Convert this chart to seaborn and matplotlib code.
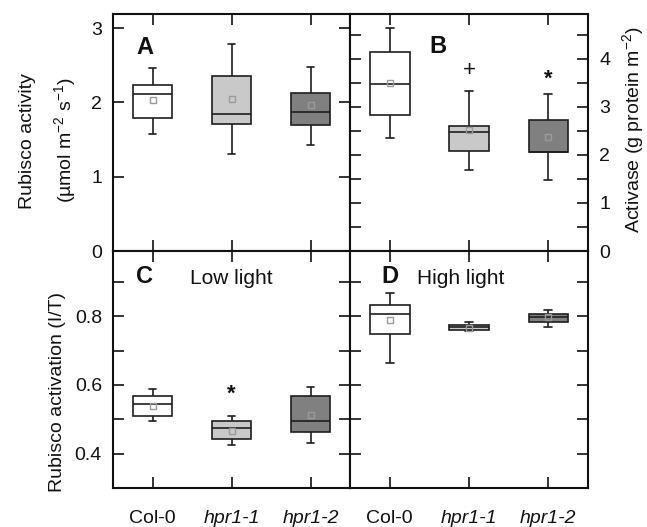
import numpy as np
import pandas as pd
import matplotlib
matplotlib.use("Agg")
import matplotlib.pyplot as plt
import seaborn as sns
from matplotlib.ticker import FixedLocator

genotypes = ["Col-0", "hpr1-1", "hpr1-2"]
box_colors = ["#ffffff", "#c9c9c9", "#808080"]

# Rubisco activity (µmol m-2 s-1): whisker ends, quartiles, medians and means
activity_low = [1.58, 1.31, 1.43]
activity_q1 = [1.79, 1.71, 1.70]
activity_med = [2.11, 1.85, 1.87]
activity_q3 = [2.24, 2.35, 2.13]
activity_high = [2.46, 2.78, 2.47]
activity_mean = [2.03, 2.04, 1.96]

# Rubisco activase content (g protein m-2)
activase_low = [2.35, 1.69, 1.48]
activase_q1 = [2.83, 2.08, 2.06]
activase_med = [3.48, 2.47, 2.06]
activase_q3 = [4.14, 2.61, 2.73]
activase_high = [4.64, 3.32, 3.26]
activase_mean = [3.49, 2.52, 2.38]

# Rubisco activation state (initial/total), low light
low_low = [0.494, 0.424, 0.432]
low_q1 = [0.511, 0.444, 0.463]
low_med = [0.546, 0.474, 0.496]
low_q3 = [0.569, 0.494, 0.567]
low_high = [0.587, 0.509, 0.594]
low_mean = [0.538, 0.466, 0.512]

# Rubisco activation state (initial/total), high light
high_low = [0.665, 0.756, 0.768]
high_q1 = [0.748, 0.760, 0.784]
high_med = [0.807, 0.768, 0.797]
high_q3 = [0.832, 0.776, 0.808]
high_high = [0.868, 0.784, 0.819]
high_mean = [0.788, 0.767, 0.797]

# significance marks: (genotype, symbol, y)
activase_marks = [("hpr1-1", "+", 3.76), ("hpr1-2", "*", 3.57)]
low_marks = [("hpr1-1", "*", 0.574)]

sns.set_theme(style="white")
plt.rcParams["font.family"] = ["Liberation Sans", "DejaVu Sans"]
plt.rcParams["mathtext.default"] = "regular"
plt.rcParams["axes.linewidth"] = 1.5
plt.rcParams["axes.edgecolor"] = "#111111"

FS = 14


def summary_frame(low, q1, med, q3, high):
    rows = []
    for g, vals in zip(genotypes, zip(low, q1, med, q3, high)):
        for v in vals:
            rows.append({"genotype": g, "value": v})
    return pd.DataFrame(rows)


def draw_panel(ax, low, q1, med, q3, high, mean):
    df = summary_frame(low, q1, med, q3, high)
    sns.boxplot(data=df, x="genotype", y="value", hue="genotype",
                order=genotypes, hue_order=genotypes,
                palette=dict(zip(genotypes, box_colors)),
                width=0.5, whis=(0, 100), linewidth=1.2, linecolor="#1e1e1e",
                showfliers=False, capwidths=0.1, legend=False, ax=ax)
    means = pd.DataFrame({"genotype": genotypes, "mean": mean})
    sns.pointplot(data=means, x="genotype", y="mean", order=genotypes,
                  color="#9a9a9a", marker="s", markersize=4.5,
                  markerfacecolor="none", markeredgewidth=1.0,
                  linestyle="none", errorbar=None, zorder=5, ax=ax)
    ax.set_xlim(-0.5, 2.5)
    ax.set_xlabel("")
    ax.set_ylabel("")
    ax.set_xticks(range(len(genotypes)))
    ax.tick_params(axis="both", which="both", direction="in", length=7.7,
                   width=1.2, color="#111111", top=True, bottom=True,
                   left=True, right=True, labelsize=FS, labelcolor="#111111")
    ax.tick_params(axis="x", pad=15.5)
    ax.tick_params(axis="y", pad=8)
    for s in ax.spines.values():
        s.set_linewidth(1.5)


fig = plt.figure(figsize=(6.47, 5.27), dpi=100)
x0, xm, x1 = 113 / 647, 350 / 647, 588 / 647
y_top, y_mid, y_bot = 1 - 14 / 527, 1 - 251 / 527, 1 - 488 / 527
axA = fig.add_axes([x0, y_mid, xm - x0, y_top - y_mid])
axB = fig.add_axes([xm, y_mid, x1 - xm, y_top - y_mid])
axC = fig.add_axes([x0, y_bot, xm - x0, y_mid - y_bot])
axD = fig.add_axes([xm, y_bot, x1 - xm, y_mid - y_bot])

draw_panel(axA, activity_low, activity_q1, activity_med, activity_q3, activity_high, activity_mean)
draw_panel(axB, activase_low, activase_q1, activase_med, activase_q3, activase_high, activase_mean)
draw_panel(axC, low_low, low_q1, low_med, low_q3, low_high, low_mean)
draw_panel(axD, high_low, high_q1, high_med, high_q3, high_high, high_mean)

# panel A
axA.set_ylim(0, 3.19)
axA.set_yticks([0, 1, 2, 3])
axA.tick_params(labelbottom=False)

# panel B
axB.set_ylim(0, 4.93)
axB.set_yticks([0, 1, 2, 3, 4])
axB.yaxis.set_minor_locator(FixedLocator([0.5, 1.5, 2.5, 3.5, 4.5]))
axB.tick_params(labelbottom=False, labelleft=False, labelright=True)

# panels C and D
for ax in (axC, axD):
    ax.set_ylim(0.3, 0.99)
    ax.set_yticks([0.4, 0.6, 0.8])
    ax.yaxis.set_minor_locator(FixedLocator([0.3, 0.5, 0.7, 0.9]))
    ax.set_xticklabels(genotypes)
    for lab in ax.get_xticklabels():
        if lab.get_text().startswith("hpr"):
            lab.set_style("italic")
axC.set_yticklabels(["0.4", "0.6", "0.8"])
axD.tick_params(labelleft=False)

for g, sym, y in activase_marks:
    axB.text(genotypes.index(g), y, sym, ha="center", va="center",
             fontsize=FS + 2, fontweight="bold" if sym == "*" else "normal",
             color="#111111")
for g, sym, y in low_marks:
    axC.text(genotypes.index(g), y, sym, ha="center", va="center",
             fontsize=FS + 2, fontweight="bold", color="#111111")

# panel letters and light conditions
axA.text(0.135, 0.831, "A", transform=axA.transAxes, ha="center", va="baseline",
         fontsize=17, fontweight="bold", color="#111111")
axB.text(0.368, 0.834, "B", transform=axB.transAxes, ha="center", va="baseline",
         fontsize=17, fontweight="bold", color="#111111")
axC.text(0.131, 0.866, "C", transform=axC.transAxes, ha="center", va="baseline",
         fontsize=17, fontweight="bold", color="#111111")
axC.text(0.325, 0.862, "Low light", transform=axC.transAxes, ha="left", va="baseline",
         fontsize=15, color="#111111")
axD.text(0.168, 0.866, "D", transform=axD.transAxes, ha="center", va="baseline",
         fontsize=17, fontweight="bold", color="#111111")
axD.text(0.28, 0.862, "High light", transform=axD.transAxes, ha="left", va="baseline",
         fontsize=15, color="#111111")

# axis titles
fig.text(27 / 647, 1 - 141 / 527, "Rubisco activity", rotation=90,
         ha="center", va="center", fontsize=FS, color="#111111")
fig.text(65 / 647, 1 - 140 / 527, "(µmol m$^{-2}$ s$^{-1}$)", rotation=90,
         ha="center", va="center", fontsize=FS, color="#111111")
fig.text(58 / 647, 1 - 392 / 527, "Rubisco activation (I/T)", rotation=90,
         ha="center", va="center", fontsize=FS, color="#111111")
fig.text(633 / 647, 1 - 130 / 527, "Activase (g protein m$^{-2}$)", rotation=90,
         ha="center", va="center", fontsize=FS, color="#111111")

fig.savefig("out.png", dpi=100)
